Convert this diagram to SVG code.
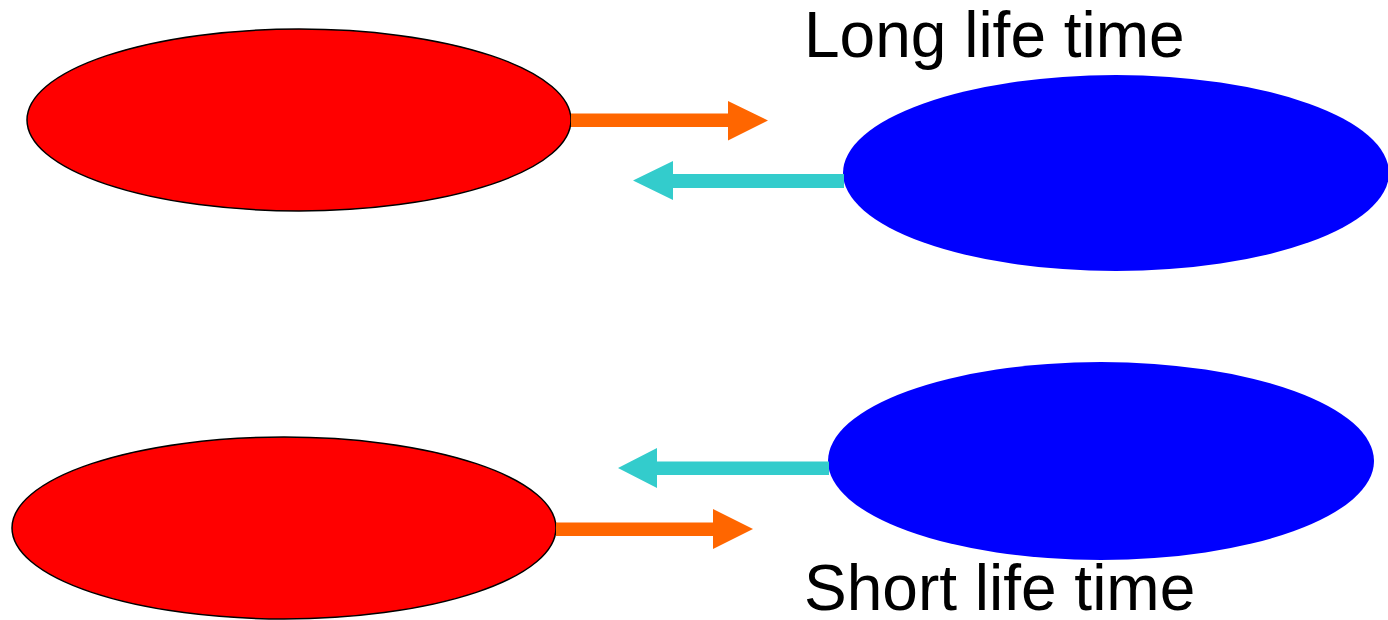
<svg xmlns="http://www.w3.org/2000/svg" width="1388" height="620" viewBox="0 0 1388 620">
  <style>
    .red { fill: #ff0000; stroke: #000000; stroke-width: 1.5; }
    .blue { fill: #0000ff; }
    .fwd { fill: #ff6600; }
    .back { fill: #33cccc; }
    .label { font-family: "Liberation Sans", Arial, sans-serif; font-size: 64px; fill: #000000; }
  </style>
  <rect width="1388" height="620" fill="#ffffff"/>

  <g id="red-top"><ellipse class="red" cx="299" cy="120" rx="272" ry="91"/></g>
  <g id="blue-top"><ellipse class="blue" cx="1116" cy="173" rx="273" ry="98"/></g>
  <g id="red-bottom"><ellipse class="red" cx="284" cy="528" rx="272" ry="91"/></g>
  <g id="blue-bottom"><ellipse class="blue" cx="1101" cy="461" rx="273" ry="99"/></g>

  <g id="connectors">
    <!-- top pair -->
    <polygon class="fwd" points="571,113.5 728,113.5 728,101 768,120.5 728,140.5 728,127 571,127"/>
    <polygon class="back" points="844,174 673,174 673,161 633,180.5 673,200 673,188 844,188"/>
    <!-- bottom pair -->
    <polygon class="back" points="829,461.5 657,461.5 657,448 618,468 657,488 657,475 829,475"/>
    <polygon class="fwd" points="556,522.5 713,522.5 713,509 753,529 713,549 713,536 556,536"/>
  </g>

  <g id="labels">
    <text class="label" x="804" y="57">Long life time</text>
    <text class="label" x="804" y="610">Short life time</text>
  </g>
</svg>
